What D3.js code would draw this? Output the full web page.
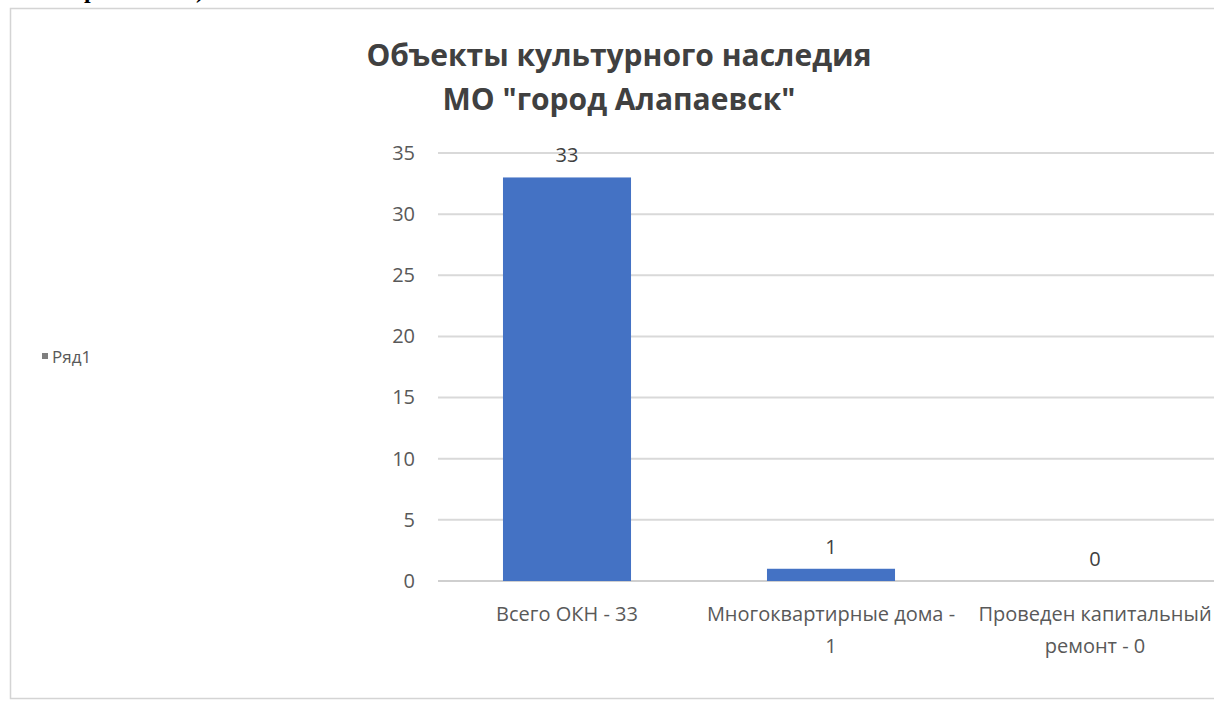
<!DOCTYPE html>
<html><head><meta charset="utf-8">
<script src="https://cdn.jsdelivr.net/npm/d3@7"></script>
<style>
html,body{margin:0;padding:0;background:#fff;overflow:hidden;}
svg{display:block;}
</style></head>
<body>
<svg id="chart" width="1214" height="701"></svg>
<script>
const categories = [["Всего ОКН - 33"], ["Многоквартирные дома -", "1"], ["Проведен капитальный", "ремонт - 0"]];
const values = [33, 1, 0];
const yTicks = [0, 5, 10, 15, 20, 25, 30, 35];
const titleLines = ["Объекты культурного наследия", "МО \"город Алапаевск\""];
const seriesName = "Ряд1";

const svg = d3.select("#chart");
const font = "'Open Sans', sans-serif";

// document text fragment above chart (cut by the page edge in the reference)
svg.append("text").attr("x", 84).attr("y", -2).attr("font-family", "'Liberation Serif', serif")
  .attr("font-weight", "bold").attr("font-size", 24).attr("fill", "#000").text("р");
svg.append("text").attr("x", 196).attr("y", -2).attr("font-family", "'Liberation Serif', serif")
  .attr("font-weight", "bold").attr("font-size", 24).attr("fill", "#000").text(")");

// chart border
svg.append("rect").attr("x", 10.5).attr("y", 8.5).attr("width", 1240).attr("height", 690)
  .attr("fill", "#fff").attr("stroke", "#d4d4d4").attr("stroke-width", 1.5);

const x0 = 435, step = 264;
const x = d3.scaleBand().domain(d3.range(categories.length)).range([x0, x0 + step * categories.length])
  .paddingInner(0.515).paddingOuter(0.2575);
const y = d3.scaleLinear().domain([0, 35]).range([581, 153]);

// gridlines
svg.append("g").selectAll("line").data(yTicks).join("line")
  .attr("x1", 438).attr("x2", 1214)
  .attr("y1", d => y(d)).attr("y2", d => y(d))
  .attr("stroke", d => d === 0 ? "#cfcfcf" : "#d9d9d9").attr("stroke-width", 2);

// y axis labels
const yAxis = d3.axisLeft(y).tickValues(yTicks).tickSize(0).tickPadding(0);
const gy = svg.append("g").attr("transform", "translate(415,0)").call(yAxis);
gy.select(".domain").remove();
gy.selectAll("text").attr("font-family", font).attr("font-size", 20).attr("fill", "#595959");

// bars
svg.append("g").selectAll("rect").data(values).join("rect")
  .attr("x", (d, i) => x(i)).attr("width", x.bandwidth())
  .attr("y", d => y(d)).attr("height", d => y(0) - y(d))
  .attr("fill", "#4472c4");

// data labels
svg.append("g").selectAll("text").data(values).join("text")
  .attr("x", (d, i) => x(i) + x.bandwidth() / 2)
  .attr("y", d => y(d) - 15)
  .attr("text-anchor", "middle").attr("font-family", font).attr("font-size", 20).attr("fill", "#404040")
  .text(d => d);

// category labels
const cat = svg.append("g").selectAll("text").data(categories).join("text")
  .attr("x", (d, i) => x(i) + x.bandwidth() / 2)
  .attr("y", 621)
  .attr("text-anchor", "middle").attr("font-family", font).attr("font-size", 20).attr("fill", "#595959");
cat.selectAll("tspan").data(d => d).join("tspan")
  .attr("x", function() { return d3.select(this.parentNode).attr("x"); })
  .attr("dy", (d, i) => i === 0 ? 0 : 32)
  .text(d => d);

// title
svg.append("g").selectAll("text").data(titleLines).join("text")
  .attr("x", 619).attr("y", (d, i) => 66 + i * 44)
  .attr("text-anchor", "middle").attr("font-family", font).attr("font-weight", "bold")
  .attr("font-size", 30).attr("fill", "#404040").text(d => d);

// legend
svg.append("rect").attr("x", 42).attr("y", 353).attr("width", 6).attr("height", 6).attr("fill", "#7f7f7f");
svg.append("text").attr("x", 52).attr("y", 363).attr("font-family", font).attr("font-size", 17)
  .attr("fill", "#595959").text(seriesName);
</script>
</body></html>
